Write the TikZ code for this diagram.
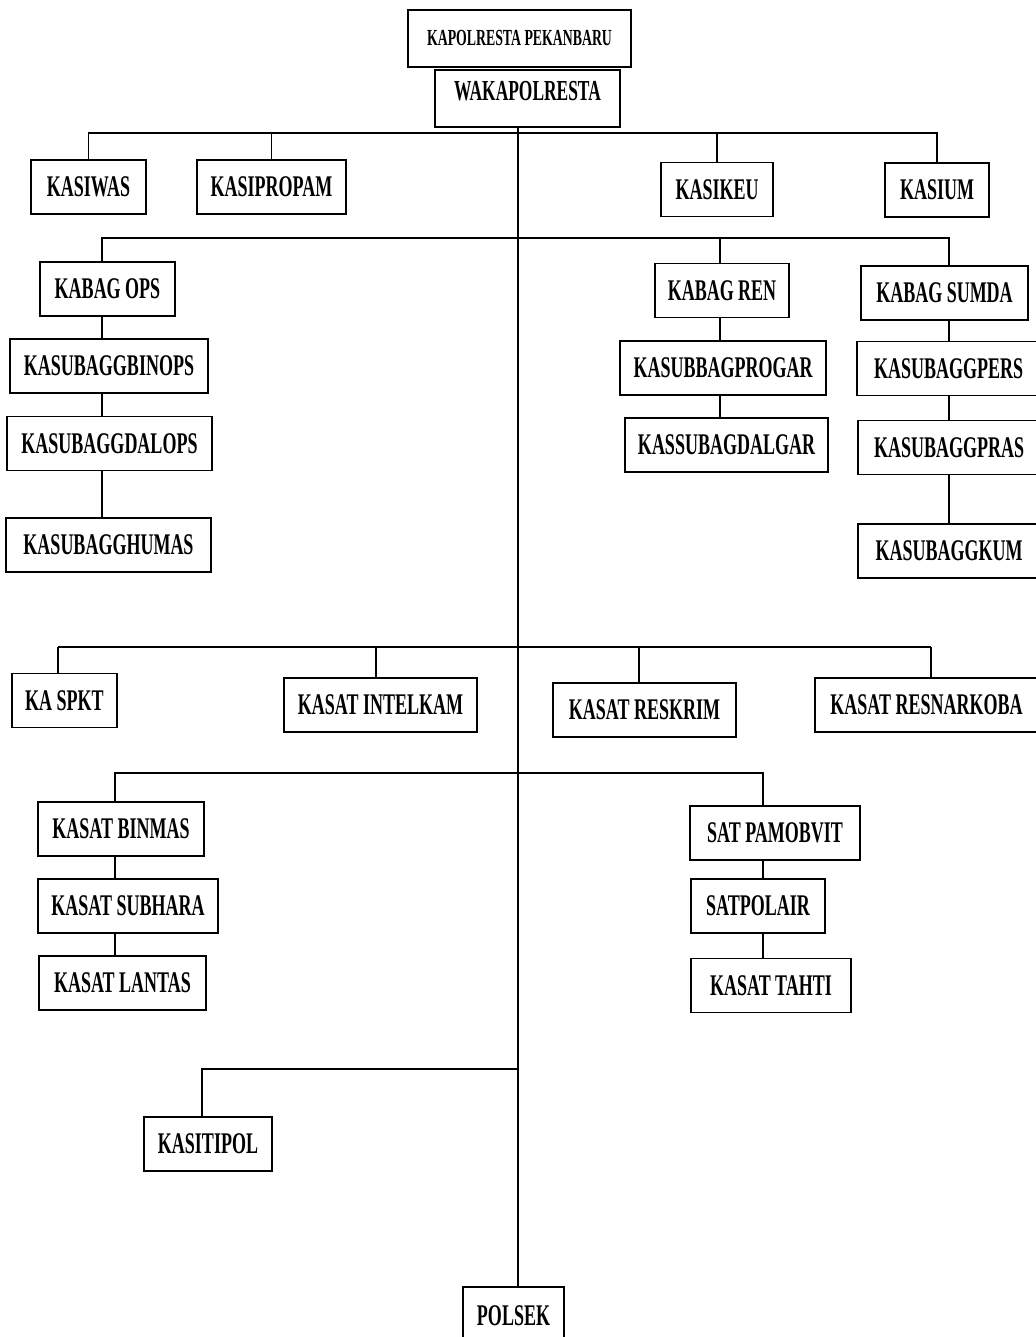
\documentclass[tikz,border=0pt]{standalone}
\usepackage{fontspec}
\setmainfont{Liberation Serif}[FakeStretch=0.6]
\usetikzlibrary{positioning,calc}
\pgfdeclarelayer{bg}
\pgfsetlayers{bg,main}

\tikzset{
	jab/.style = {draw, fill=white, line width=1.6pt, minimum height=54pt, inner sep=0pt,
		font=\bfseries\fontsize{30}{33}\selectfont},
	garis/.style = {line width=1.3pt}
}

\begin{document}
\begin{tikzpicture}[
				x = 1pt,
				y = -1pt
				]
				\useasboundingbox (0,0) rectangle (1035,1337);
				
				\node [jab, minimum width=223pt, minimum height=57pt, font=\bfseries\fontsize{23}{26}\selectfont] (kapol) at (519.5,38.5) {KAPOLRESTA PEKANBARU};
				\node [jab, minimum width=185pt, minimum height=57pt, text depth=15pt, font=\bfseries\fontsize{29}{32}\selectfont] (wak) at (527.5,98.5) {WAKAPOLRESTA};
				
				\node [jab, minimum width=115pt] (kasiwas) at (88.5,187) {KASIWAS};
				\node [jab, minimum width=149pt] (kasipropam) at (271.5,187) {KASIPROPAM};
				\node [jab, minimum width=112pt] (kasikeu) at (717,189.5) {KASIKEU};
				\node [jab, minimum width=104pt] (kasium) at (937,190) {KASIUM};
				
				\node [jab, minimum width=135pt] (kabops) at (107.5,289) {KABAG OPS};
				\node [jab, minimum width=198pt] (binops) at (109,366) {KASUBAGGBINOPS};
				\node [jab, minimum width=205pt] (dalops) at (109.5,443.5) {KASUBAGGDALOPS};
				\node [jab, minimum width=205pt] (humas) at (108.5,545) {KASUBAGGHUMAS};
				
				\node [jab, minimum width=134pt] (kabren) at (722,290.5) {KABAG REN};
				\node [jab, minimum width=206pt] (progar) at (723,368) {KASUBBAGPROGAR};
				\node [jab, minimum width=203pt] (dalgar) at (726.5,445) {KASSUBAGDALGAR};
				
				\node [jab, minimum width=167pt] (kabsumda) at (944.5,293) {KABAG SUMDA};
				\node [jab, minimum width=183pt] (pers) at (948.5,368.5) {KASUBAGGPERS};
				\node [jab, minimum width=182pt] (pras) at (949,447.5) {KASUBAGGPRAS};
				\node [jab, minimum width=182pt] (kum) at (949,551) {KASUBAGGKUM};
				
				\node [jab, minimum width=105pt] (spkt) at (64.5,700.5) {KA SPKT};
				\node [jab, minimum width=193pt] (intelkam) at (380.5,705) {KASAT INTELKAM};
				\node [jab, minimum width=183pt] (reskrim) at (644.5,710) {KASAT RESKRIM};
				\node [jab, minimum width=223pt] (resnarkoba) at (926.5,705) {KASAT RESNARKOBA};
				
				\node [jab, minimum width=166pt] (binmas) at (121,829) {KASAT BINMAS};
				\node [jab, minimum width=180pt] (subhara) at (128,906) {KASAT SUBHARA};
				\node [jab, minimum width=167pt] (lantas) at (122.5,983) {KASAT LANTAS};
				
				\node [jab, minimum width=170pt] (pamobvit) at (775,833) {SAT PAMOBVIT};
				\node [jab, minimum width=134pt] (polair) at (758,906) {SATPOLAIR};
				\node [jab, minimum width=160pt] (tahti) at (771,985.5) {KASAT TAHTI};
				
				\node [jab, minimum width=128pt] (tipol) at (208,1144) {KASITIPOL};
				\node [jab, minimum width=101pt, minimum height=58pt] (polsek) at (513.5,1316) {POLSEK};
				
				\coordinate (sp) at (518,0);
				\coordinate (opsx) at (102,0);
				\coordinate (renx) at (720,0);
				\coordinate (sumx) at (949,0);
				\coordinate (binx) at (115,0);
				\coordinate (pamx) at (763,0);
				\coordinate (tipx) at (202,0);
				\coordinate (b1) at (0,133);
				\coordinate (b2) at (0,238);
				\coordinate (b4) at (0,773);
				\coordinate (b5) at (0,1069);
				\coordinate (s1) at (58,647);
				\coordinate (s2) at (376,647);
				\coordinate (s3) at (639,647);
				\coordinate (s4) at (931,647);
				
				\begin{pgfonlayer}{bg}
					\draw [garis] (wak.south -| sp) -- (polsek.north -| sp);
					
					\draw [garis] (kasiwas.north) |- (b1 -| kasium.north) -- (kasium.north);
					\foreach \n in {kasipropam,kasikeu}
						\draw [garis] (\n.north) -- (\n.north |- b1);
					
					\draw [garis] (kabops.north -| opsx) |- (b2 -| sumx) -- (kabsumda.north -| sumx);
					\draw [garis] (kabren.north -| renx) -- (b2 -| renx);
					\draw [garis] (kabops.south -| opsx) -- (humas.north -| opsx);
					\draw [garis] (kabren.south -| renx) -- (dalgar.north -| renx);
					\draw [garis] (kabsumda.south -| sumx) -- (kum.north -| sumx);
					
					\draw [garis] (s1) -- (s4);
					\draw [garis] (s1) -- (s1 |- spkt.north);
					\draw [garis] (s2) -- (s2 |- intelkam.north);
					\draw [garis] (s3) -- (s3 |- reskrim.north);
					\draw [garis] (s4) -- (s4 |- resnarkoba.north);
					
					\draw [garis] (binmas.north -| binx) |- (b4 -| pamx) -- (pamobvit.north -| pamx);
					\draw [garis] (binmas.south -| binx) -- (lantas.north -| binx);
					\draw [garis] (pamobvit.south -| pamx) -- (tahti.north -| pamx);
					
					\draw [garis] (tipol.north -| tipx) |- (b5 -| sp);
				\end{pgfonlayer}
			\end{tikzpicture}
\end{document}
